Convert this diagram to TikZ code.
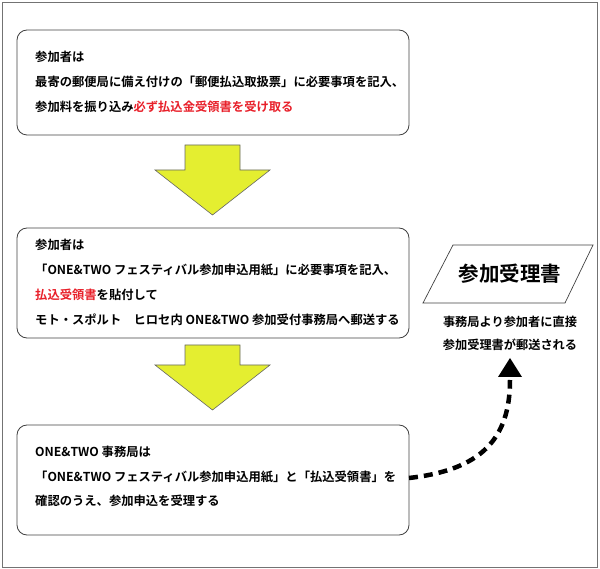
\documentclass[tikz,border=0pt]{standalone}
\usepackage{fontspec}
\setmainfont{Noto Sans CJK JP}[BoldFont={* Bold}]
\usetikzlibrary{shapes.geometric,arrows.meta}
\definecolor{ylw}{HTML}{E4EE30}
\definecolor{rd}{HTML}{E8202A}
\tikzset{
 stepbox/.style={draw=black!75,line width=0.8pt,rounded corners=10pt},
 txt/.style={anchor=west,font=\bfseries\fontsize{12.3}{14}\selectfont,inner sep=0pt},
 bigarrow/.style={draw=black!60,fill=ylw,line width=0.6pt},
}
\begin{document}
\begin{tikzpicture}[x=1pt,y=-1pt]
\useasboundingbox (0,0) rectangle (600,569);
\draw[black!55,line width=0.8pt] (2,2) rectangle (597,567);
\draw[stepbox] (17,30) rectangle (409,135);
\node[txt] (a1) at (35,57) {参加者は};
\node[txt] (a2) at (35,82) {最寄の郵便局に備え付けの「郵便払込取扱票」に必要事項を記入、};
\node[txt] (a3) at (35,107) {参加料を振り込み\textcolor{rd}{必ず払込金受領書を受け取る}};
\draw[bigarrow] (185,145) -- (240,145) -- (240,170) -- (270,170) -- (212.5,215) -- (155,170) -- (185,170) -- cycle;
\draw[stepbox] (17,228) rectangle (409,338);
\node[txt] (b1) at (35,245) {参加者は};
\node[txt] (b2) at (35,270) {「ONE\&TWO フェスティバル参加申込用紙」に必要事項を記入、};
\node[txt] (b3) at (35,295) {\textcolor{rd}{払込受領書}を貼付して};
\node[txt] (b4) at (35,320) {モト・スポルト\quad ヒロセ内 ONE\&TWO 参加受付事務局へ郵送する};
\draw[bigarrow] (185,345) -- (240,345) -- (240,365) -- (270,365) -- (212.5,410) -- (155,365) -- (185,365) -- cycle;
\draw[stepbox] (17,425) rectangle (409,535);
\node[txt] (c1) at (35,452) {ONE\&TWO 事務局は};
\node[txt] (c2) at (35,477) {「ONE\&TWO フェスティバル参加申込用紙」と「払込受領書」を};
\node[txt] (c3) at (35,501) {確認のうえ、参加申込を受理する};
\draw[black!75,line width=0.7pt] (453,245) -- (593,245) -- (565,303) -- (423,303) -- cycle;
\node[font=\bfseries\fontsize{20.5}{22}\selectfont,inner sep=0pt] (r) at (510,274) {参加受理書};
\node[font=\bfseries\fontsize{12.2}{14}\selectfont,inner sep=0pt] (s1) at (510,322) {事務局より参加者に直接};
\node[font=\bfseries\fontsize{12.2}{14}\selectfont,inner sep=0pt] (s2) at (510,345) {参加受理書が郵送される};
\coordinate (st) at (409,478);
\coordinate (en) at (510,380);
\draw[line width=4.5pt,dash pattern=on 9pt off 6pt] (st) .. controls (480,470) and (510,440) .. (en);
\fill (510,358) -- (522,377) -- (498,377) -- cycle;
\end{tikzpicture}
\end{document}
